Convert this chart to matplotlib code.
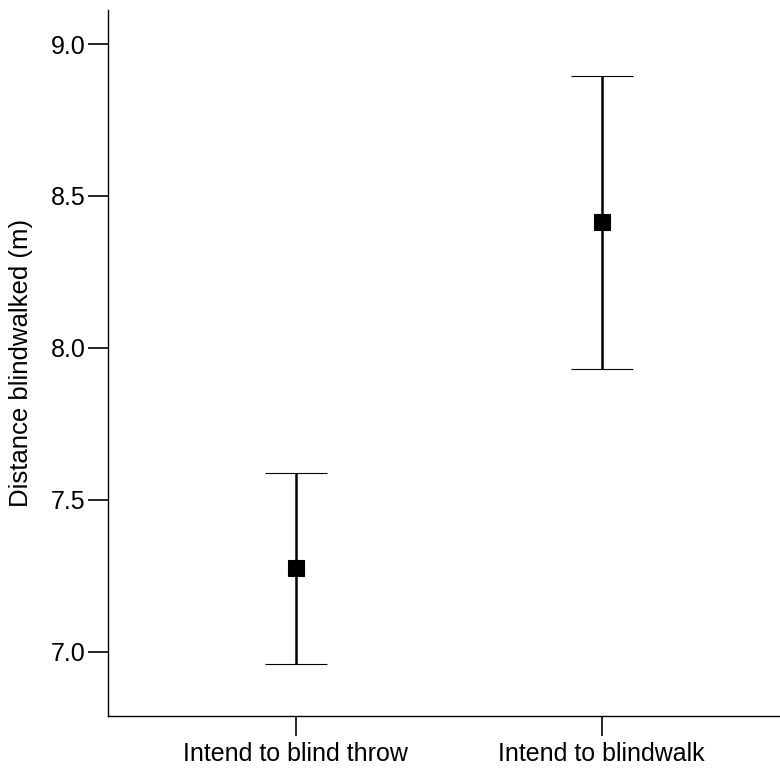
#!/usr/bin/env python3

# Distance blindwalked by intention: mean with error bars

import numpy as np
import matplotlib
matplotlib.use("Agg")
import matplotlib.pyplot as plt

conditions = ["Intend to blind throw", "Intend to blindwalk"]
means = [7.275, 8.413]
upper = [7.588, 8.895]
lower = [6.960, 7.930]

plt.rcParams['font.family'] = ['Liberation Sans', 'DejaVu Sans']

if __name__ == '__main__':
    x = np.arange(1, len(conditions) + 1)
    means_a = np.array(means)
    err = np.vstack([means_a - np.array(lower), np.array(upper) - means_a])

    fig = plt.figure(figsize=(7.8, 7.75), dpi=100)
    ax = fig.add_axes([0.1388, 0.0755, 0.8612, 0.9122])

    ax.errorbar(x, means_a, yerr=err, fmt='s', color='black', ecolor='black',
                elinewidth=1.8, capsize=22, capthick=1.8, markersize=12,
                markeredgewidth=0.8)

    ax.set_xlim(0.3876, 2.583)
    ax.set_ylim(6.787, 9.1135)
    ax.set_yticks([7.0, 7.5, 8.0, 8.5, 9.0])
    ax.set_yticklabels(["7.0", "7.5", "8.0", "8.5", "9.0"])
    ax.set_xticks(x)
    ax.set_xticklabels(conditions)

    ax.spines['top'].set_visible(False)
    ax.spines['right'].set_visible(False)
    ax.spines['left'].set_linewidth(1.0)
    ax.spines['bottom'].set_linewidth(1.0)
    ax.tick_params(axis='both', length=14.4, width=1.2, labelsize=18, color='black')
    ax.tick_params(axis='y', pad=2)
    ax.tick_params(axis='x', pad=4)

    ax.set_ylabel("Distance blindwalked (m)", fontsize=18.5, labelpad=13)

    fig.savefig("out.png", dpi=100)
